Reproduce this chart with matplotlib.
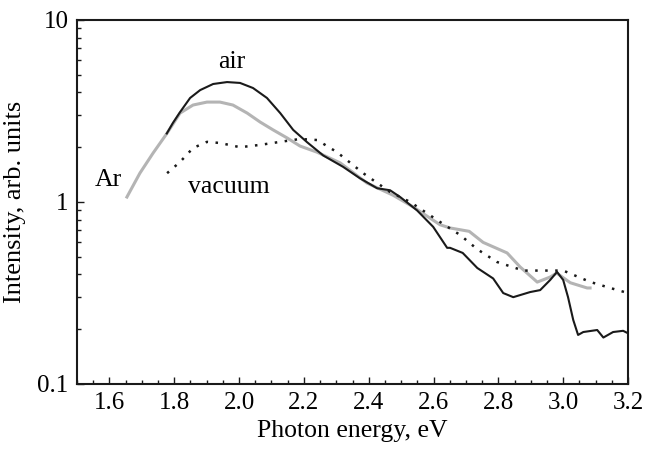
import matplotlib
matplotlib.use("Agg")
import matplotlib.pyplot as plt
from matplotlib.ticker import MultipleLocator, LogLocator, NullFormatter, FixedLocator, FixedFormatter

plt.rcParams['font.family'] = ['Liberation Serif', 'DejaVu Serif']

air_x = [1.777, 1.796, 1.818, 1.849, 1.880, 1.920, 1.963, 2.003, 2.043, 2.086, 2.127, 2.167, 2.210,
         2.26, 2.321, 2.373, 2.426, 2.466, 2.497, 2.549, 2.599, 2.642, 2.651, 2.69, 2.735,
         2.784, 2.815, 2.846, 2.898, 2.929, 2.96, 2.981, 3.0, 3.015, 3.031, 3.046, 3.062, 3.105,
         3.124, 3.154, 3.185, 3.2]
air_y = [2.38, 2.72, 3.12, 3.73, 4.12, 4.45, 4.56, 4.51, 4.23, 3.73, 3.08, 2.49, 2.13,
         1.80, 1.56, 1.35, 1.19, 1.16, 1.065, 0.90, 0.73, 0.56, 0.56, 0.525, 0.434,
         0.38, 0.316, 0.30, 0.32, 0.328, 0.373, 0.413, 0.373, 0.30, 0.225, 0.186, 0.193, 0.198,
         0.18, 0.193, 0.196, 0.19]

ar_x = [1.654, 1.694, 1.735, 1.778, 1.818, 1.858, 1.901, 1.941, 1.981, 2.025, 2.065, 2.105, 2.148,
        2.188, 2.24, 2.312, 2.395, 2.475, 2.537, 2.62, 2.651, 2.69, 2.71, 2.753, 2.827, 2.867,
        2.92, 2.96, 2.98, 3.022, 3.074, 3.083]
ar_y = [1.065, 1.44, 1.86, 2.39, 3.08, 3.41, 3.54, 3.54, 3.41, 3.08, 2.75, 2.49, 2.25,
        2.03, 1.88, 1.64, 1.27, 1.09, 0.94, 0.75, 0.72, 0.70, 0.69, 0.60, 0.525, 0.44,
        0.363, 0.387, 0.407, 0.36, 0.337, 0.337]

vac_x = [1.778, 1.818, 1.858, 1.901, 1.941, 2.003, 2.065, 2.127, 2.188, 2.241, 2.302, 2.383,
         2.466, 2.528, 2.62, 2.682, 2.735, 2.796, 2.877, 2.96, 3.0, 3.083, 3.145, 3.2]
vac_y = [1.44, 1.66, 1.98, 2.14, 2.11, 2.0, 2.06, 2.14, 2.22, 2.19, 1.88, 1.44,
         1.135, 1.0, 0.777, 0.659, 0.55, 0.468, 0.42, 0.42, 0.42, 0.364, 0.337, 0.316]

xticks = [1.6, 1.8, 2.0, 2.2, 2.4, 2.6, 2.8, 3.0, 3.2]
xtick_labels = ['1.6', '1.8', '2.0', '2.2', '2.4', '2.6', '2.8', '3.0', '3.2']
yticks = [0.1, 1, 10]
ytick_labels = ['0.1', '1', '10']

fig = plt.figure(figsize=(6.45, 4.55), dpi=100)
ax = fig.add_axes([77/645, 1 - 384/455, (628-77)/645, (384-20)/455])

ax.plot(ar_x, ar_y, color='#b4b4b4', lw=2.2)
ax.plot(air_x, air_y, color='#1a1a1a', lw=1.5)
ax.plot(vac_x, vac_y, color='#1a1a1a', lw=1.8, linestyle=(0, (1, 3)))

ax.set_yscale('log')
ax.set_xlim(1.5, 3.2)
ax.set_ylim(0.1, 10)

ax.xaxis.set_major_locator(FixedLocator(xticks))
ax.xaxis.set_major_formatter(FixedFormatter(xtick_labels))
ax.xaxis.set_minor_locator(MultipleLocator(0.05))
ax.yaxis.set_major_locator(FixedLocator(yticks))
ax.yaxis.set_major_formatter(FixedFormatter(ytick_labels))
ax.yaxis.set_minor_locator(LogLocator(base=10, subs=range(2, 10)))
ax.yaxis.set_minor_formatter(NullFormatter())

ax.tick_params(which='both', direction='in', top=False, right=False, labelsize=18, color='#1a1a1a')
ax.tick_params(which='major', length=5, width=1.0, pad=6)
ax.tick_params(which='minor', length=3, width=1.0)
for s in ax.spines.values():
    s.set_linewidth(1.5)
    s.set_color('#1a1a1a')

ax.set_xlabel('Photon energy, eV', fontsize=18.5, labelpad=4)
ax.set_ylabel('Intensity, arb. units', fontsize=19, labelpad=8)

ax.text(1.978, 5.87, 'air', fontsize=18.5, ha='center', va='center')
ax.text(1.596, 1.32, 'Ar', fontsize=18.5, ha='center', va='center')
ax.text(1.969, 1.21, 'vacuum', fontsize=18.5, ha='center', va='center')

fig.savefig('out.png', dpi=100)
